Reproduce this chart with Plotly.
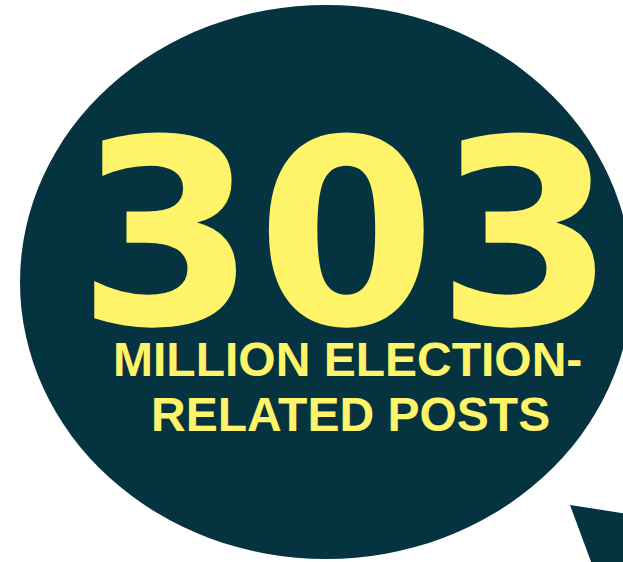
import plotly.graph_objects as go

# ---- data ----
headline_value = ["303"]
subtitle_lines = ["MILLION ELECTION-", "RELATED POSTS"]

# ---- style ----
W, H = 623, 562
TEAL = "#05333F"
YELLOW = "#FFF36A"

fig = go.Figure()
fig.add_trace(go.Scatter(x=[0, W], y=[0, H], mode="markers",
                         marker=dict(opacity=0), hoverinfo="skip", showlegend=False))

# speech bubble body (ellipse)
cx, cy, a, b = 326, 282, 306, 277
fig.add_shape(type="circle", xref="x", yref="y",
              x0=cx - a, x1=cx + a, y0=cy - b, y1=cy + b,
              fillcolor=TEAL, line=dict(width=0), layer="below")
# speech bubble tail
fig.add_shape(type="path", xref="x", yref="y",
              path="M 570 505 L 700 525 L 620 640 Z",
              fillcolor=TEAL, line=dict(width=0), layer="below")

fig.add_annotation(x=346, y=235, xref="x", yref="y", text=headline_value[0],
                   showarrow=False, xanchor="center", yanchor="middle",
                   font=dict(family="DejaVu Sans", size=258, color=YELLOW, weight="bold"))

sub_y = [359, 414]
sub_x = [347, 350]
for txt, xx, yy in zip(subtitle_lines, sub_x, sub_y):
    fig.add_annotation(x=xx, y=yy, xref="x", yref="y", text=txt,
                       showarrow=False, xanchor="center", yanchor="middle",
                       font=dict(family="Liberation Sans, Arial", size=48, color=YELLOW, weight="bold"))

fig.update_xaxes(range=[0, W], visible=False, fixedrange=True)
fig.update_yaxes(range=[H, 0], visible=False, fixedrange=True)
fig.update_layout(width=W, height=H, margin=dict(l=0, r=0, t=0, b=0),
                  paper_bgcolor="white", plot_bgcolor="white", showlegend=False)

fig.write_html("out.html", config={"displayModeBar": False},
               post_script="document.body.style.margin='0';document.body.style.overflow='hidden';")
